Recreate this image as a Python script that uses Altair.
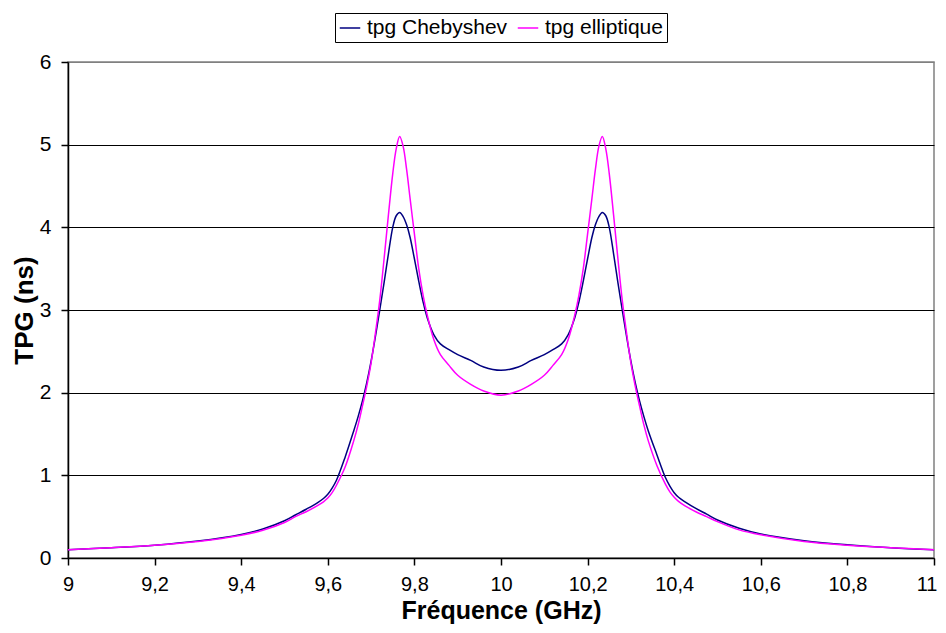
import altair as alt
import pandas as pd

freq = [9.0, 9.1, 9.2, 9.3, 9.4, 9.45, 9.5, 9.525, 9.55, 9.575, 9.59, 9.6, 9.61, 9.62, 9.64,
        9.66, 9.67, 9.68, 9.69, 9.70, 9.71, 9.72, 9.73, 9.74, 9.75, 9.758, 9.766, 9.774,
        9.782, 9.79, 9.80, 9.81, 9.82, 9.83, 9.845, 9.86, 9.88, 9.90, 9.93, 9.96, 10.0,
        10.04, 10.07, 10.10, 10.12, 10.14, 10.155, 10.17, 10.18, 10.19, 10.20, 10.21, 10.218,
        10.226, 10.234, 10.242, 10.25, 10.26, 10.27, 10.28, 10.29, 10.30, 10.31, 10.32,
        10.33, 10.34, 10.36, 10.38, 10.39, 10.40, 10.41, 10.425, 10.45, 10.475, 10.5, 10.55,
        10.6, 10.7, 10.8, 10.9, 11.0]

tpg_cheb = [0.10, 0.125, 0.155, 0.205, 0.285, 0.35, 0.45, 0.52, 0.59, 0.665, 0.72, 0.77, 0.845,
            0.94, 1.22, 1.54, 1.71, 1.90, 2.12, 2.38, 2.68, 3.00, 3.33, 3.68, 4.00, 4.14, 4.18,
            4.13, 4.03, 3.88, 3.62, 3.35, 3.10, 2.90, 2.70, 2.59, 2.52, 2.46, 2.39, 2.31, 2.27,
            2.31, 2.39, 2.46, 2.52, 2.59, 2.70, 2.90, 3.10, 3.35, 3.62, 3.88, 4.03,
            4.13, 4.18, 4.14, 4.00, 3.68, 3.33, 3.00, 2.68, 2.38, 2.12, 1.90,
            1.71, 1.54, 1.25, 0.97, 0.87, 0.79, 0.735, 0.68, 0.60, 0.53, 0.46, 0.36,
            0.29, 0.21, 0.16, 0.125, 0.10]

tpg_ellip = [0.10, 0.125, 0.155, 0.20, 0.275, 0.335, 0.43, 0.50, 0.56, 0.63, 0.68, 0.725, 0.79,
             0.88, 1.10, 1.42, 1.61, 1.84, 2.08, 2.36, 2.72, 3.12, 3.62, 4.15, 4.65, 4.95, 5.10,
             4.98, 4.70, 4.35, 3.92, 3.50, 3.18, 2.93, 2.64, 2.46, 2.33, 2.21, 2.10, 2.02, 1.97,
             2.02, 2.10, 2.21, 2.33, 2.46, 2.64, 2.93, 3.18, 3.50, 3.92, 4.35, 4.70,
             4.98, 5.10, 4.95, 4.65, 4.15, 3.62, 3.12, 2.72, 2.36, 2.08, 1.84,
             1.61, 1.42, 1.12, 0.89, 0.80, 0.735, 0.685, 0.63, 0.56, 0.50, 0.44, 0.34,
             0.28, 0.20, 0.155, 0.125, 0.10]

series_names = ["tpg Chebyshev", "tpg elliptique"]
series_colors = ["#000080", "#FF00FF"]
x_ticks = [9.0, 9.2, 9.4, 9.6, 9.8, 10.0, 10.2, 10.4, 10.6, 10.8, 11.0]
y_ticks = [0, 1, 2, 3, 4, 5, 6]

rows = []
for f, c, e in zip(freq, tpg_cheb, tpg_ellip):
    rows.append({"f": f, "v": c, "s": series_names[0]})
    rows.append({"f": f, "v": e, "s": series_names[1]})
df = pd.DataFrame(rows)

FONT = "Liberation Sans"

chart = alt.Chart(df).mark_line(strokeWidth=1.5, interpolate="catmull-rom").encode(
    x=alt.X("f:Q",
            scale=alt.Scale(domain=[9, 11], nice=False, zero=False),
            axis=alt.Axis(values=x_ticks, title="Fréquence (GHz)", grid=False,
                          labelExpr="replace(format(datum.value, '.1~f'), '.', ',')",
                          labelAlign={"condition": {"test": "datum.value >= 11", "value": "right"},
                                      "value": "center"},
                          labelOffset={"condition": {"test": "datum.value >= 11", "value": 3},
                                       "value": 0},
                          labelFontSize=20, labelFont=FONT, labelColor="black",
                          titleFontSize=25, titleFont=FONT, titleFontWeight="bold",
                          titleColor="black", titleBaseline="alphabetic",
                          titleX=433, titleY=60, labelPadding=9,
                          domainColor="black", domainWidth=1.5, tickColor="black",
                          tickSize=7, tickWidth=1.5, labelFlush=False)),
    y=alt.Y("v:Q",
            scale=alt.Scale(domain=[0, 6], nice=False),
            axis=alt.Axis(values=y_ticks, title="TPG (ns)", grid=True,
                          gridColor={"condition": {"test": "datum.value === 6", "value": "#808080"},
                                     "value": "black"},
                          gridWidth=1, gridOpacity=1,
                          labelFontSize=21, labelFont=FONT, labelColor="black",
                          titleFontSize=26, titleFont=FONT, titleFontWeight="bold",
                          titleColor="black", titleBaseline="alphabetic",
                          titleX=-36, titleY=248, labelPadding=10,
                          domainColor="black", domainWidth=1.5, tickColor="black",
                          tickSize=7, tickWidth=1.5)),
    color=alt.Color("s:N",
                    scale=alt.Scale(domain=series_names, range=series_colors),
                    legend=alt.Legend(orient="none", legendX=267, legendY=-49,
                                      direction="horizontal", title=None,
                                      symbolType="stroke", symbolSize=420,
                                      symbolStrokeWidth=1.5, labelFontSize=21,
                                      labelFont=FONT, labelColor="black",
                                      strokeColor="black", padding=4,
                                      columnPadding=6, labelOffset=6,
                                      fillColor="white")),
).properties(
    width=866,
    height=496,
    autosize=alt.AutoSizeParams(type="none"),
    padding={"left": 60, "top": 54, "right": 4, "bottom": 66},
).configure_view(
    stroke="#808080", strokeWidth=1.5
)

chart.save("out.html", embed_options={"renderer": "svg", "actions": False})
